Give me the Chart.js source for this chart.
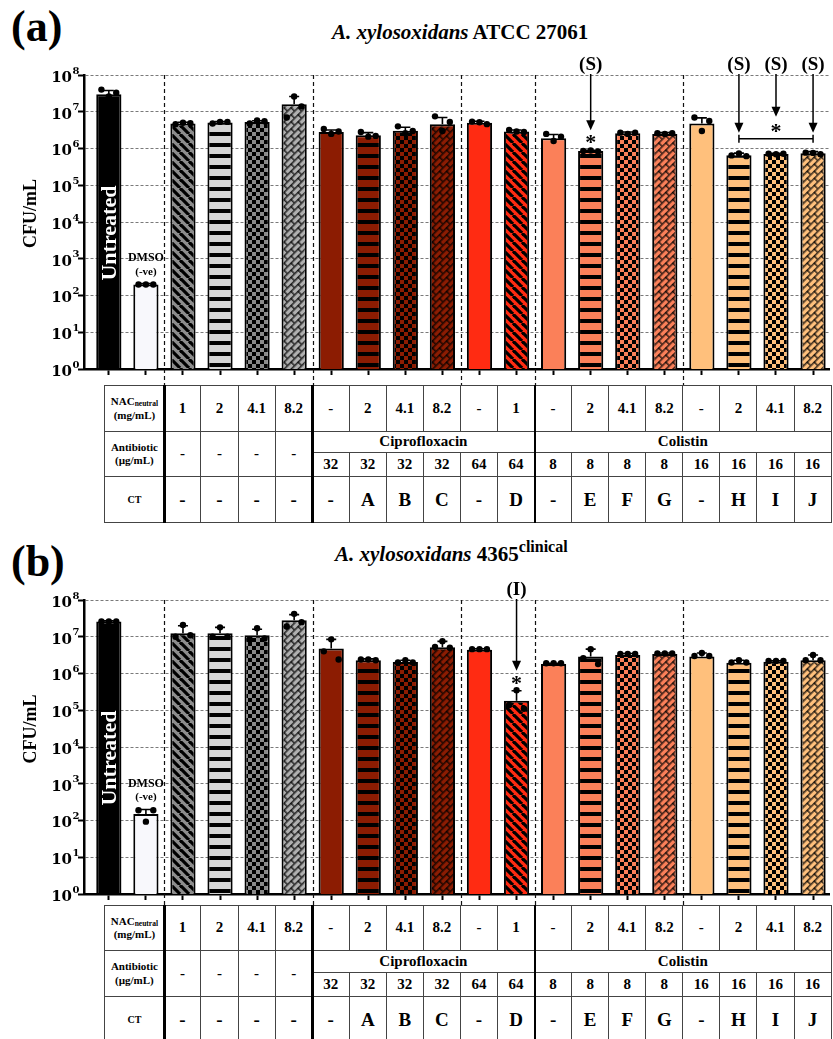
<!DOCTYPE html>
<html>
<head>
<meta charset="utf-8">
<title>A. xylosoxidans CFU/mL</title>
<script src="https://cdn.jsdelivr.net/npm/chart.js@4.4.1/dist/chart.umd.min.js"></script>
<style>
  body { margin: 0; width: 833px; height: 1039px; overflow: hidden; background: #fff; position: relative; font-family: "Liberation Serif", serif; color: #000; }
  .tag { position: absolute; font-weight: bold; font-size: 44px; line-height: 44px; }
  .title { position: absolute; font-weight: bold; font-size: 21px; line-height: 21px; white-space: nowrap; }
  .title .sup { font-size: 16px; position: relative; top: -9px; }
  canvas { position: absolute; left: 0; }
  .tbl { position: absolute; left: 0; width: 833px; overflow: hidden; }
  .cell { position: absolute; box-sizing: border-box; border-right: 1px solid #444; border-bottom: 1px solid #444;
          display: flex; align-items: center; justify-content: center; text-align: center;
          font-weight: bold; font-size: 15px; line-height: 1.05; }
  .cell.first { border-top: 1px solid #444; }
  .cell.lab { border-left: 1px solid #444; font-size: 11px; line-height: 1.2; }
  .cell.lab sub { font-size: 7.5px; vertical-align: -1px; }
  .cell.ct { font-size: 19px; }
  .cell.ctlab { font-size: 10px; }
  .thick { position: absolute; width: 2.5px; background: #000; }
</style>
</head>
<body>
<div class="tag" style="left:11px;top:5px">(a)</div>
<div class="title" style="left:332px;top:22px"><i>A. xylosoxidans</i> ATCC 27061</div>
<canvas id="cA" width="833" height="341" style="top:44px"></canvas>
<div class="tbl" id="tA" style="top:385px;height:140px"></div>

<div class="tag" style="left:11px;top:540px">(b)</div>
<div class="title" style="left:335px;top:544px"><i>A. xylosoxidans</i> 4365<span class="sup">clinical</span></div>
<canvas id="cB" width="833" height="335" style="top:570px"></canvas>
<div class="tbl" id="tB" style="top:905px;height:134px"></div>

<script>
// ---- bars (same order in both panels) ----
const barNames = ['Untreated', 'DMSO (-ve)', 'NAC 1', 'NAC 2', 'NAC 4.1', 'NAC 8.2',
  'CIP 32', 'A', 'B', 'C', 'CIP 64', 'D', 'COL 8', 'E', 'F', 'G', 'COL 16', 'H', 'I', 'J'];
const decades = [1, 1e1, 1e2, 1e3, 1e4, 1e5, 1e6, 1e7, 1e8];

// ---- panel (a) ATCC 27061 ----
const meanA = [3.0e7, 2.0e2, 4.8e6, 5.1e6, 5.3e6, 1.6e7, 2.8e6, 2.3e6, 3.05e6, 4.6e6,
  5.0e6, 2.9e6, 1.9e6, 8.5e5, 2.6e6, 2.5e6, 4.8e6, 6.6e5, 7.1e5, 7.4e5];
const errHiA = [3.8e7, 2.1e2, 5.2e6, 5.4e6, 5.7e6, 2.6e7, 3.2e6, 2.7e6, 3.8e6, 7.0e6,
  5.5e6, 3.2e6, 2.4e6, 9.0e5, 2.8e6, 2.7e6, 6.8e6, 7.5e5, 7.4e5, 8.2e5];
const repsA = [[4.0e7, 2.6e7, 3.3e7], [2.0e2, 2.0e2, 2.0e2], [4.6e6, 5.0e6, 4.9e6], [4.8e6, 5.3e6, 5.3e6],
  [4.8e6, 5.8e6, 5.5e6], [7.0e6, 2.6e7, 1.4e7], [3.4e6, 2.5e6, 2.9e6], [2.8e6, 2.1e6, 2.2e6],
  [4.0e6, 2.6e6, 3.0e6], [7.5e6, 3.0e6, 5.3e6], [5.4e6, 5.2e6, 4.6e6], [3.2e6, 2.9e6, 2.8e6],
  [2.5e6, 1.6e6, 2.1e6], [8.6e5, 8.8e5, 8.3e5], [2.7e6, 2.5e6, 2.7e6], [2.6e6, 2.5e6, 2.6e6],
  [7.0e6, 3.0e6, 5.6e6], [6.5e5, 7.3e5, 6.2e5], [7.2e5, 7.0e5, 7.2e5], [7.7e5, 7.6e5, 7.0e5]];
const sigA = [{ bars: [13], text: '(S)' }, { bars: [17, 18, 19], text: '(S)' }];

// ---- panel (b) 4365 clinical ----
const meanB = [2.6e7, 1.5e2, 1.24e7, 1.24e7, 1.1e7, 2.8e7, 4.8e6, 2.3e6, 2.05e6, 5.2e6,
  4.4e6, 1.8e5, 1.8e6, 2.9e6, 3.2e6, 3.4e6, 2.9e6, 1.95e6, 2.1e6, 2.3e6];
const errHiB = [2.7e7, 2.0e2, 2.0e7, 1.8e7, 1.6e7, 4.0e7, 8.5e6, 2.5e6, 2.3e6, 7.5e6,
  4.7e6, 3.4e5, 1.9e6, 4.6e6, 3.5e6, 3.6e6, 3.6e6, 2.3e6, 2.2e6, 3.2e6];
const repsB = [[2.6e7, 2.6e7, 2.6e7], [1.9e2, 9.3e1, 1.9e2], [1.0e7, 2.1e7, 1.1e7], [1.0e7, 1.8e7, 1.0e7],
  [8.5e6, 1.7e7, 9.0e6], [1.9e7, 4.2e7, 2.5e7], [4.0e6, 8.5e6, 2.4e6], [2.4e6, 2.4e6, 2.3e6],
  [2.0e6, 2.3e6, 2.0e6], [5.3e6, 7.6e6, 5.0e6], [4.6e6, 4.6e6, 4.6e6], [1.4e5, 3.5e5, 1.1e5],
  [1.9e6, 1.9e6, 1.9e6], [2.6e6, 4.6e6, 1.8e6], [3.4e6, 3.4e6, 3.4e6], [3.5e6, 3.5e6, 3.5e6],
  [3.0e6, 3.6e6, 3.0e6], [2.0e6, 2.3e6, 2.0e6], [2.2e6, 2.2e6, 2.2e6], [2.3e6, 3.2e6, 2.3e6]];
const sigB = [{ bars: [11], text: '(I)' }];

// ---- condition table (columns = bars 3..20) ----
const nacDose = ['1', '2', '4.1', '8.2', '-', '2', '4.1', '8.2', '-', '1', '-', '2', '4.1', '8.2', '-', '2', '4.1', '8.2'];
const abxDose = ['-', '-', '-', '-', '32', '32', '32', '32', '64', '64', '8', '8', '8', '8', '16', '16', '16', '16'];
const ctCode = ['-', '-', '-', '-', '-', 'A', 'B', 'C', '-', 'D', '-', 'E', 'F', 'G', '-', 'H', 'I', 'J'];
const abxGroups = [{ name: 'Ciprofloxacin', from: 4, to: 9 }, { name: 'Colistin', from: 10, to: 17 }];
const separators = [1.5, 5.5, 9.5, 11.5, 15.5];

// ---- styles ----
const barFill = ['#000000', '#f8f8fc', '#8d8d8d', '#d4d4d4', '#8a8a8a', '#b0b0b0',
  '#8c1c02', '#8c1c02', '#8c1c02', '#8c1c02', '#ff2b12', '#ff2b12',
  '#fb8059', '#fb8059', '#fb8059', '#fb8059', '#ffc07c', '#ffc07c', '#ffc07c', '#ffc07c'];
const barPattern = ['solid', 'solid', 'diag', 'hstripe', 'check', 'brick', 'solid', 'hstripe', 'check', 'brick',
  'solid', 'diag', 'solid', 'hstripe', 'check', 'brick', 'solid', 'hstripe', 'check', 'brick'];
const dotShift = [-0.2, 0, 0.2];

function makeTile(kind, bg) {
    const c = document.createElement('canvas');
    const g = c.getContext('2d');
    if (kind === 'diag') {
        const s = 9;
        c.width = s; c.height = s;
        g.fillStyle = bg; g.fillRect(0, 0, s, s);
        g.strokeStyle = '#000'; g.lineWidth = 3.2;
        for (const o of [-s, 0, s]) { g.beginPath(); g.moveTo(o, 0); g.lineTo(o + s, s); g.stroke(); }
    } else if (kind === 'hstripe') {
        c.width = 4; c.height = 11;
        g.fillStyle = bg; g.fillRect(0, 0, 4, 11);
        g.fillStyle = '#000'; g.fillRect(0, 0, 4, 4);
    } else if (kind === 'check') {
        c.width = 8; c.height = 8;
        g.fillStyle = bg; g.fillRect(0, 0, 8, 8);
        g.fillStyle = '#000'; g.fillRect(0, 0, 4, 4); g.fillRect(4, 4, 4, 4);
    } else { // brick, laid out flat then turned 45 degrees
        c.width = 10; c.height = 10;
        g.fillStyle = bg; g.fillRect(0, 0, 10, 10);
        g.fillStyle = 'rgba(0,0,0,0.75)';
        g.fillRect(0, 0, 10, 1.6); g.fillRect(0, 5, 10, 1.6);
        g.fillRect(0, 0, 1.6, 5); g.fillRect(5, 5, 1.6, 5);
    }
    return c;
}

const panelInfo = {
    cA: { mean: meanA, hi: errHiA, sig: sigA, yTitleAt: 1.7e4 },
    cB: { mean: meanB, hi: errHiB, sig: sigB, yTitleAt: 3.1e4 }
};

function arrow(ctx, px, y0, tip) {
    ctx.beginPath(); ctx.moveTo(px, y0); ctx.lineTo(px, tip - 8); ctx.stroke();
    ctx.beginPath(); ctx.moveTo(px - 4.5, tip - 10); ctx.lineTo(px + 4.5, tip - 10); ctx.lineTo(px, tip); ctx.closePath(); ctx.fill();
}
function star(ctx, px, cy) {
    ctx.font = 'bold 22px "Liberation Serif"';
    ctx.textAlign = 'center'; ctx.textBaseline = 'alphabetic';
    ctx.fillText('*', px, cy + 10);
}

const decor = {
    id: 'decor',
    beforeDatasetsDraw(chart) {
        const { ctx, chartArea: ca, scales: { x } } = chart;
        ctx.save();
        ctx.strokeStyle = '#111'; ctx.lineWidth = 1.2; ctx.setLineDash([4, 3]);
        separators.forEach(s => {
            const px = Math.round(x.getPixelForValue(s)) + 0.5;
            ctx.beginPath(); ctx.moveTo(px, ca.top); ctx.lineTo(px, chart.height); ctx.stroke();
        });
        ctx.restore();
    },
    afterDatasetDraw(chart, args) {
        if (args.index !== 0) return;
        const info = panelInfo[chart.canvas.id];
        const { ctx, scales: { x, y } } = chart;
        ctx.save();
        ctx.strokeStyle = '#000'; ctx.lineWidth = 1.6;
        info.mean.forEach((m, i) => {
            const px = x.getPixelForValue(i);
            const y0 = y.getPixelForValue(m), y1 = y.getPixelForValue(info.hi[i]);
            ctx.beginPath();
            ctx.moveTo(px, y0); ctx.lineTo(px, y1);
            ctx.moveTo(px - 5, y1); ctx.lineTo(px + 5, y1);
            ctx.stroke();
        });
        ctx.restore();
    },
    afterDraw(chart) {
        const info = panelInfo[chart.canvas.id];
        const { ctx, chartArea: ca, scales: { x, y } } = chart;
        ctx.save();
        ctx.fillStyle = '#000';
        // y tick labels 10^n
        y.ticks.forEach(t => {
            const py = y.getPixelForValue(t.value);
            const k = Math.round(Math.log10(t.value));
            ctx.font = 'bold 15px "DejaVu Serif"';
            ctx.textAlign = 'right'; ctx.textBaseline = 'middle';
            ctx.fillText('10', 72, py + 3);
            ctx.font = 'bold 10px "DejaVu Serif"';
            ctx.textAlign = 'left';
            ctx.fillText(String(k), 72.5, py - 4);
        });
        // y title
        ctx.save();
        ctx.translate(31, y.getPixelForValue(info.yTitleAt));
        ctx.rotate(-Math.PI / 2);
        ctx.font = 'bold 18px "Liberation Serif"';
        ctx.textAlign = 'center'; ctx.textBaseline = 'middle';
        ctx.fillText('CFU/mL', 0, 0);
        ctx.restore();
        // Untreated label inside bar 1
        ctx.save();
        ctx.translate(x.getPixelForValue(0) + 1, y.getPixelForValue(5e3));
        ctx.rotate(-Math.PI / 2);
        ctx.fillStyle = '#fff';
        ctx.font = 'bold 22px "Liberation Serif"';
        ctx.textAlign = 'center'; ctx.textBaseline = 'middle';
        ctx.fillText('Untreated', 0, 0);
        ctx.restore();
        // DMSO label above bar 2
        const dx = x.getPixelForValue(1), dy = y.getPixelForValue(info.hi[1]);
        ctx.textAlign = 'center'; ctx.textBaseline = 'middle';
        ctx.font = 'bold 12px "Liberation Serif"';
        ctx.fillText('DMSO', dx, dy - 26);
        ctx.font = 'bold 11px "Liberation Serif"';
        ctx.fillText('(-ve)', dx, dy - 12);
        // significance arrows
        ctx.strokeStyle = '#000'; ctx.lineWidth = 1.5;
        info.sig.forEach(g => {
            const tops = g.bars.map(i => y.getPixelForValue(Math.max(info.hi[i], info.mean[i])));
            const label = px => {
                ctx.font = 'bold 19px "Liberation Serif"';
                ctx.textAlign = 'center'; ctx.textBaseline = 'middle';
                ctx.fillText(g.text, px, ca.top - 10);
            };
            if (g.bars.length === 1) {
                const px = x.getPixelForValue(g.bars[0]);
                label(px);
                arrow(ctx, px, ca.top - 1, tops[0] - 20);
                star(ctx, px, tops[0] - 11);
            } else {
                const by = Math.min(...tops) - 13;
                g.bars.forEach((i, k) => {
                    const px = x.getPixelForValue(i);
                    label(px);
                    arrow(ctx, px, ca.top - 1, k === 1 ? by - 22 : by - 6);
                });
                const xa = x.getPixelForValue(g.bars[0]), xb = x.getPixelForValue(g.bars[g.bars.length - 1]);
                ctx.beginPath();
                ctx.moveTo(xa, by); ctx.lineTo(xb, by);
                ctx.moveTo(xa, by - 4); ctx.lineTo(xa, by + 4);
                ctx.moveTo(xb, by - 4); ctx.lineTo(xb, by + 4);
                ctx.stroke();
                star(ctx, x.getPixelForValue(g.bars[1]), by - 11);
            }
        });
        ctx.restore();
    }
};

function makeChart(id, mean, reps, padTop, axisBelow) {
    const ctx = document.getElementById(id).getContext('2d');
    const fills = barFill.map((col, i) => {
        if (barPattern[i] === 'solid') return col;
        const p = ctx.createPattern(makeTile(barPattern[i], col), 'repeat');
        if (barPattern[i] === 'brick') p.setTransform(new DOMMatrix().rotateSelf(-45));
        return p;
    });
    const dots = [];
    reps.forEach((r, i) => r.forEach((v, k) => dots.push({ x: i + dotShift[k], y: v })));

    return new Chart(ctx, {
        type: 'bar',
        data: {
            datasets: [{
                type: 'bar',
                label: 'mean',
                data: mean.map((v, i) => ({ x: i, y: v })),
                backgroundColor: fills,
                borderColor: '#000',
                borderWidth: 2,
                barPercentage: 0.68,
                categoryPercentage: 1,
                order: 2
            }, {
                type: 'scatter',
                label: 'replicates',
                data: dots,
                pointRadius: 3.2,
                backgroundColor: '#000',
                borderWidth: 0,
                order: 1
            }]
        },
        options: {
            responsive: false,
            animation: false,
            events: [],
            layout: { padding: { top: padTop, left: 0, right: 0, bottom: 0 } },
            plugins: { legend: { display: false }, tooltip: { enabled: false } },
            scales: {
                x: {
                    type: 'linear', min: -0.67, max: 19.43, offset: false,
                    afterBuildTicks: s => { s.ticks = barNames.map((_, i) => ({ value: i })); },
                    afterFit: s => { s.height = axisBelow; },
                    ticks: { display: false },
                    grid: { offset: false, drawOnChartArea: false, drawTicks: true, tickLength: 6, tickWidth: 2, tickColor: '#000', color: '#000' },
                    border: { color: '#000', width: 2.5 }
                },
                y: {
                    type: 'logarithmic', min: 1, max: 1e8,
                    afterBuildTicks: s => { s.ticks = decades.map(v => ({ value: v })); },
                    afterFit: s => { s.width = 84; },
                    ticks: { display: false },
                    grid: { color: '#7a7a7a', lineWidth: 1, drawTicks: true, tickLength: 6, tickWidth: 2, tickColor: '#000' },
                    border: { color: '#000', width: 2.5, dash: [3, 2] }
                }
            }
        },
        plugins: [decor]
    });
}

function buildTable(id, chart, rows) {
    const host = document.getElementById(id);
    const x = chart.scales.x;
    const colW = x.getPixelForValue(1) - x.getPixelForValue(0);
    const labW = 60;
    const x0 = x.getPixelForValue(1.5);
    const ys = [0];
    rows.forEach(h => ys.push(ys[ys.length - 1] + h));
    const add = (l, t, w, h, html, cls) => {
        const d = document.createElement('div');
        d.className = 'cell ' + (cls || '') + (t === 0 ? ' first' : '');
        d.style.left = l + 'px'; d.style.top = t + 'px';
        d.style.width = w + 'px'; d.style.height = h + 'px';
        d.innerHTML = '<div>' + html + '</div>';
        host.appendChild(d);
    };
    add(x0 - labW, ys[0], labW, rows[0], 'NAC<sub>neutral</sub><br>(mg/mL)', 'lab');
    add(x0 - labW, ys[1], labW, rows[1] + rows[2], 'Antibiotic<br>(\u00b5g/mL)', 'lab');
    add(x0 - labW, ys[3], labW, rows[3], 'CT', 'lab ctlab');
    nacDose.forEach((v, j) => add(x0 + j * colW, ys[0], colW, rows[0], v));
    abxDose.forEach((v, j) => {
        const inGroup = abxGroups.some(g => j >= g.from && j <= g.to);
        if (inGroup) add(x0 + j * colW, ys[2], colW, rows[2], v);
        else add(x0 + j * colW, ys[1], colW, rows[1] + rows[2], v);
    });
    abxGroups.forEach(g => add(x0 + g.from * colW, ys[1], (g.to - g.from + 1) * colW, rows[1], g.name));
    ctCode.forEach((v, j) => add(x0 + j * colW, ys[3], colW, rows[3], v, 'ct'));
    [0].concat(abxGroups.map(g => g.from)).forEach(j => {
        const d = document.createElement('div');
        d.className = 'thick';
        d.style.left = (x0 + j * colW - 1.2) + 'px';
        d.style.top = '0px';
        d.style.height = ys[4] + 'px';
        host.appendChild(d);
    });
}

const chartA = makeChart('cA', meanA, repsA, 31, 16);
const chartB = makeChart('cB', meanB, repsB, 30, 11);
buildTable('tA', chartA, [47, 21, 24, 46]);
buildTable('tB', chartB, [46, 22, 24, 46]);
</script>
</body>
</html>
